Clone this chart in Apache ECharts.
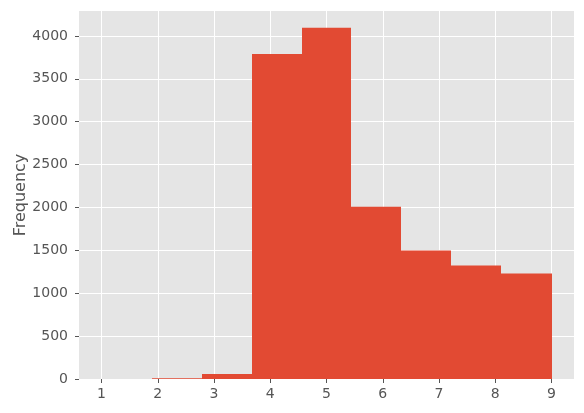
<!DOCTYPE html>
<html>
<head>
<meta charset="utf-8">
<script src="https://cdn.jsdelivr.net/npm/echarts@6/dist/echarts.min.js"></script>
<style>
  html, body { margin: 0; padding: 0; background: #fff; }
  #chart { width: 584px; height: 413px; }
</style>
</head>
<body>
<div id="chart"></div>
<script>
// histogram bins: edges and counts
const binEdges = [1, 1.889, 2.778, 3.667, 4.556, 5.444, 6.333, 7.222, 8.111, 9]
const counts = [0, 10, 58, 3790, 4095, 2008, 1497, 1322, 1229]
const xTicks = [1, 2, 3, 4, 5, 6, 7, 8, 9]
const yTicks = [0, 500, 1000, 1500, 2000, 2500, 3000, 3500, 4000]

const bars = counts.map((c, i) => [binEdges[i], binEdges[i + 1], c])

const chart = echarts.init(document.getElementById('chart'))
const tickFont = { color: '#555', fontSize: 14, fontFamily: 'DejaVu Sans' }

chart.setOption({
  animation: false,
  grid: {
    left: 79, right: 10, top: 11, bottom: 34,
    outerBoundsMode: 'none', containLabel: false,
    show: true, backgroundColor: '#E5E5E5', borderWidth: 0,
  },
  xAxis: {
    type: 'value', min: 0.6, max: 9.4,
    axisLine: { show: false },
    axisTick: { show: true, length: 4, lineStyle: { color: '#555' }, customValues: xTicks },
    axisLabel: { ...tickFont, margin: 8, customValues: xTicks, formatter: v => String(v) },
    splitLine: { show: true, lineStyle: { color: '#fff', width: 1 } },
  },
  yAxis: {
    type: 'value', min: 0, max: 4290,
    name: 'Frequency', nameLocation: 'middle', nameGap: 50, nameMoveOverlap: false,
    nameTextStyle: { color: '#555', fontSize: 16, fontFamily: 'DejaVu Sans' },
    axisLine: { show: false },
    axisTick: { show: true, length: 4, lineStyle: { color: '#555' }, customValues: yTicks },
    axisLabel: { ...tickFont, margin: 11, customValues: yTicks, formatter: v => String(v) },
    splitLine: { show: true, lineStyle: { color: '#fff', width: 1 } },
  },
  series: [{
    type: 'custom',
    data: bars,
    encode: { x: [0, 1], y: 2 },
    renderItem: (params, api) => {
      const p0 = api.coord([api.value(0), 0])
      const p1 = api.coord([api.value(1), api.value(2)])
      const x0 = Math.round(p0[0])
      const x1 = Math.round(p1[0])
      return {
        type: 'rect',
        shape: { x: x0, y: p1[1], width: x1 - x0, height: p0[1] - p1[1] },
        style: { fill: '#E24A33' },
      }
    },
  }],
})
</script>
</body>
</html>
